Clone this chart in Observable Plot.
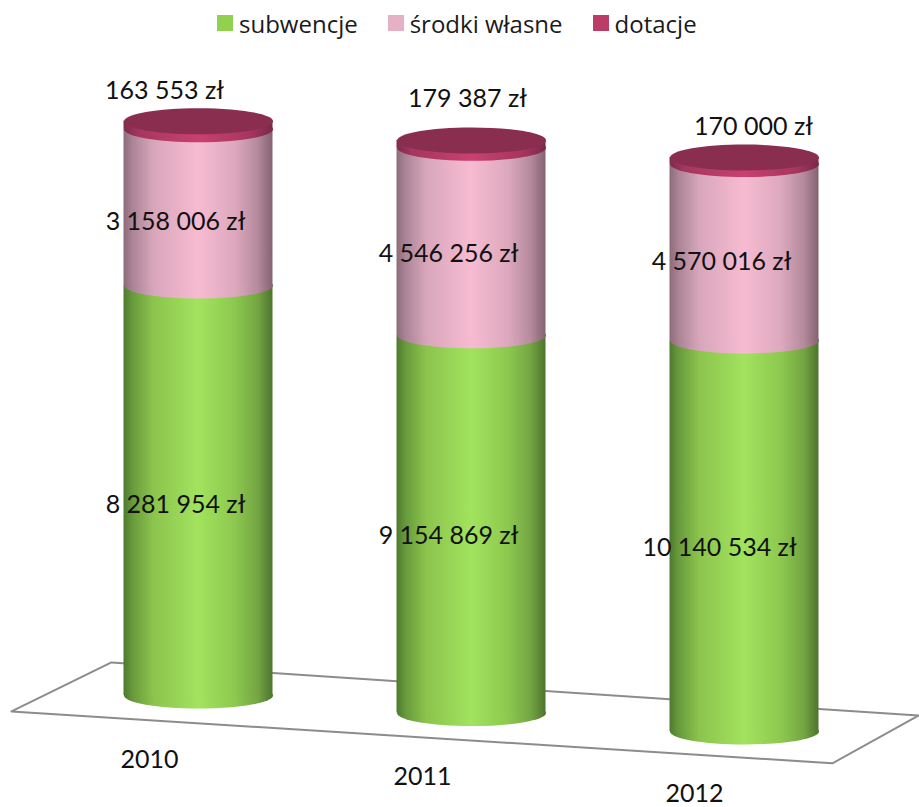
<!DOCTYPE html>
<html lang="pl">
<head>
<meta charset="utf-8">
<script src="https://cdn.jsdelivr.net/npm/d3@7"></script>
<script src="https://cdn.jsdelivr.net/npm/@observablehq/plot@0.6"></script>
<style>
  html, body { margin: 0; padding: 0; background: #fff; }
  #chart { position: relative; width: 919px; height: 807px; overflow: hidden; }
  #legend { position: absolute; top: 5px; left: 217px; display: flex; font: 24px "Open Sans", sans-serif; color: #1a1a1a; }
  #legend span.item { display: flex; align-items: center; margin-right: 30px; height: 36px; }
  #legend i { display: inline-block; width: 16px; height: 16px; margin-right: 6px; }
</style>
</head>
<body>
<div id="chart"></div>
<script>
const years = [2010, 2011, 2012];
const seriesNames = ["subwencje", "środki własne", "dotacje"];
const subwencje = [8281954, 9154869, 10140534];
const srodkiWlasne = [3158006, 4546256, 4570016];
const dotacje = [163553, 179387, 170000];
const seriesValues = [subwencje, srodkiWlasne, dotacje];
const legendColors = ["#92d050", "#e6b0c5", "#bc3c68"];

// Pseudo-3D layout (in pixels): each cylinder sits on its own floor line with its own depth scale.
const pxPerMillion = [49.5, 41.25, 38.57];
const baseDrop = [0, 17.5, 36];
const pxPerYear = 273;
const halfWidth = 74.5;
const ry = 13;
const labelDx = [[-23, -23, -25], [-23, -23, -23], [-34, -4, 9]];
const labelDy = [[14, 12, 12.5], [15, 12, 10], [-34.5, -45, -33.5]];
const yearDx = [-49, -49, -50];
const yearDy = [64, 63.5, 62];

const refK = pxPerMillion[0] / 1e6;
const px = (p) => p / refK;
const fmt = (v) => d3.format(",")(v).replace(/,/g, " ") + " zł";

const table = [];
years.forEach((year, i) => {
  let y = -px(baseDrop[i]);
  seriesValues.forEach((vals, s) => {
    const h = vals[i] * (pxPerMillion[i] / pxPerMillion[0]);
    table.push({
      year, series: s, value: vals[i], y1: y, y2: y + h,
      lx: year + labelDx[s][i] / pxPerYear,
      ly: y + h / 2 - px(labelDy[s][i]),
      label: fmt(vals[i])
    });
    y += h;
  });
});
const tops = table.filter((d) => d.series === 2);
const yearRows = years.map((year, i) => ({
  x: year + yearDx[i] / pxPerYear,
  y: -px(baseDrop[i] + yearDy[i]),
  label: String(year)
}));

// Floor parallelogram, in chart units
const floorYear = [2009.315, 2009.681, 2012.637, 2012.322, 2009.315];
const floorZl = [-322000, 668000, -405000, -1370000, -322000];

const ellipseSymbol = {
  draw(c) {
    const a = halfWidth, b = ry, k = 0.5523;
    c.moveTo(-a, 0);
    c.bezierCurveTo(-a, -k * b, -k * a, -b, 0, -b);
    c.bezierCurveTo(k * a, -b, a, -k * b, a, 0);
    c.bezierCurveTo(a, k * b, k * a, b, 0, b);
    c.bezierCurveTo(-k * a, b, -a, k * b, -a, 0);
    c.closePath();
  }
};

const gradients = {
  g0: [[0, "#4d7a2e"], [0.06, "#689a3c"], [0.2, "#8cc44d"], [0.5, "#a2e35e"], [0.75, "#8cc84e"], [0.9, "#74a543"], [1, "#4d742d"]],
  g1: [[0, "#8c6b7a"], [0.06, "#ab8496"], [0.2, "#d8a6bb"], [0.5, "#f7bbd1"], [0.75, "#dca8bd"], [0.9, "#b48a9c"], [1, "#85626f"]],
  g2: [[0, "#7f2a4a"], [0.1, "#a5375f"], [0.5, "#c9406f"], [0.85, "#a5365e"], [1, "#7a2847"]]
};
const defs = () => {
  const d = d3.create("svg:defs");
  for (const [id, stops] of Object.entries(gradients)) {
    const g = d.append("linearGradient").attr("id", id).attr("x1", 0).attr("x2", 1).attr("y1", 0).attr("y2", 0);
    for (const [o, c] of stops) g.append("stop").attr("offset", o).attr("stop-color", c);
  }
  return d.node();
};

const segmentMarks = seriesNames.flatMap((_, s) => {
  const rows = table.filter((d) => d.series === s);
  const fill = `url(#g${s})`;
  return [
    Plot.dot(rows, { x: "year", y: "y1", r: 1, symbol: ellipseSymbol, fill, stroke: "none" }),
    Plot.rect(rows, {
      x1: (d) => d.year - halfWidth / pxPerYear,
      x2: (d) => d.year + halfWidth / pxPerYear,
      y1: "y1", y2: "y2", fill
    })
  ];
});

const chart = Plot.plot({
  width: 919,
  height: 807,
  margin: 0,
  style: { background: "#fff", overflow: "visible" },
  x: { axis: null, domain: [2010 - 198 / pxPerYear, 2010 + (919 - 198) / pxPerYear], range: [0, 919] },
  y: { axis: null, domain: [px(695 - 807), px(695)], range: [807, 0] },
  marks: [
    defs,
    Plot.line(floorYear.map((x, i) => ({ x, y: floorZl[i] })), { x: "x", y: "y", stroke: "#8c8c8c", strokeWidth: 2, curve: "linear" }),
    ...segmentMarks,
    Plot.dot(tops, { x: "year", y: "y2", r: 1, symbol: ellipseSymbol, fill: "#8a2e50", stroke: "none" }),
    Plot.text(table, { x: "lx", y: "ly", text: "label", fontSize: 25, fontFamily: "Lato, sans-serif", fill: "#111" }),
    Plot.text(yearRows, { x: "x", y: "y", text: "label", fontSize: 25, fontFamily: "Lato, sans-serif", fill: "#111" })
  ]
});

const root = document.getElementById("chart");
root.appendChild(chart);
const legend = document.createElement("div");
legend.id = "legend";
seriesNames.forEach((n, i) => {
  const item = document.createElement("span");
  item.className = "item";
  const sw = document.createElement("i");
  sw.style.background = legendColors[i];
  item.appendChild(sw);
  item.appendChild(document.createTextNode(n));
  legend.appendChild(item);
});
root.appendChild(legend);
</script>
</body>
</html>
